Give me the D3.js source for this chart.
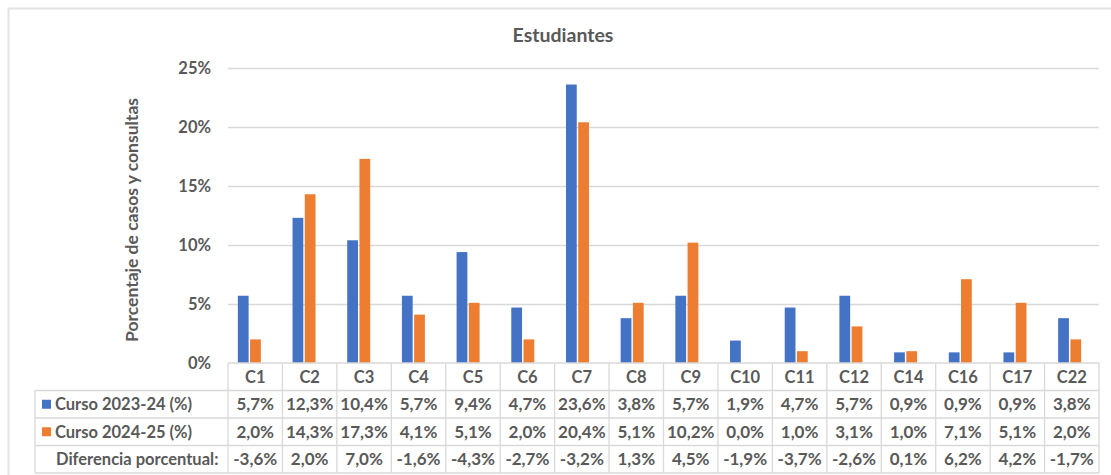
<!DOCTYPE html>
<html>
<head>
<meta charset="utf-8">
<script src="https://cdn.jsdelivr.net/npm/d3@7"></script>
<style>
  html, body { margin: 0; padding: 0; background: #fff; }
  svg { display: block; }
  text { font-family: Lato, "Open Sans", sans-serif; font-weight: bold; fill: #595959; }
</style>
</head>
<body>
<svg id="chart" width="1111" height="475"></svg>
<script>
// Categories and series (percentages)
const categories = ["C1","C2","C3","C4","C5","C6","C7","C8","C9","C10","C11","C12","C14","C16","C17","C22"];
const curso2324 = [5.7,12.3,10.4,5.7,9.4,4.7,23.6,3.8,5.7,1.9,4.7,5.7,0.9,0.9,0.9,3.8];
const curso2425 = [2.0,14.3,17.3,4.1,5.1,2.0,20.4,5.1,10.2,0.0,1.0,3.1,1.0,7.1,5.1,2.0];
const diferencia = [-3.6,2.0,7.0,-1.6,-4.3,-2.7,-3.2,1.3,4.5,-1.9,-3.7,-2.6,0.1,6.2,4.2,-1.7];
const seriesNames = ["Curso 2023-24 (%)", "Curso 2024-25 (%)"];
const diffLabel = "Diferencia porcentual:";
const yTicks = [0, 5, 10, 15, 20, 25];
const chartTitle = "Estudiantes";
const yTitle = "Porcentaje de casos y consultas";

const colors = ["#4472C4", "#ED7D31"];
const gridColor = "#d9d9d9";

const svg = d3.select("#chart");
// percent with comma decimal and plain hyphen for negatives
const fmt = v => d3.format(".1f")(v).replace("\u2212", "-").replace(".", ",") + "%";

// outer frame
svg.append("path")
  .attr("d", "M8.5,475 V8.5 H1111")
  .attr("fill", "none").attr("stroke", "#e3e3e3").attr("stroke-width", 2);

// layout
const plotTop = 68, plotBottom = 363;
const tableLeft = 228, tableRight = 1099;
const legendLeft = 35;
const rowH = 27.5;

const y = d3.scaleLinear().domain([0, 25]).range([plotBottom, plotTop]);
const xTable = d3.scaleBand().domain(categories).range([tableLeft, tableRight]);
const xBars = d3.scaleBand().domain(categories).range([222, 1097]);
const xSub = d3.scaleBand().domain([0, 1]).range([0, 23]).paddingInner(0.12);

// title
svg.append("text").attr("x", 563).attr("y", 42)
  .attr("text-anchor", "middle").attr("font-size", 19.5).text(chartTitle);

// y axis title
svg.append("text")
  .attr("transform", "translate(138,220) rotate(-90)")
  .attr("text-anchor", "middle").attr("font-size", 17.5).text(yTitle);

// gridlines
svg.append("g").selectAll("line").data(yTicks.filter(d => d > 0)).join("line")
  .attr("x1", tableLeft).attr("x2", tableRight)
  .attr("y1", d => Math.round(y(d)) + 0.5).attr("y2", d => Math.round(y(d)) + 0.5)
  .attr("stroke", gridColor).attr("stroke-width", 1.3);

// y tick labels
const yAxis = d3.axisLeft(y).tickValues(yTicks).tickFormat(d => d + "%").tickSize(0).tickPadding(0);
const gy = svg.append("g").attr("transform", "translate(211,0)").call(yAxis);
gy.select(".domain").remove();
gy.selectAll("text").attr("font-size", 16.5).attr("font-family", "Lato, sans-serif")
  .attr("font-weight", "bold").attr("fill", "#595959").attr("dy", "0.35em");

// bars
const seriesData = [curso2324, curso2425];
seriesData.forEach((vals, si) => {
  svg.append("g").selectAll("rect").data(categories).join("rect")
    .attr("x", (c) => xBars(c) + (xBars.bandwidth() - 23) / 2 + xSub(si))
    .attr("width", xSub.bandwidth())
    .attr("y", (c, i) => y(vals[i]))
    .attr("height", (c, i) => plotBottom - y(vals[i]))
    .attr("fill", colors[si]);
});

// data table
const tbl = svg.append("g").attr("stroke", gridColor).attr("stroke-width", 1.3).attr("fill", "none");
// axis/baseline
tbl.append("line").attr("x1", tableLeft).attr("x2", tableRight).attr("y1", plotBottom).attr("y2", plotBottom);
// horizontal row lines
[1, 2, 3, 4].forEach(r => {
  tbl.append("line").attr("x1", legendLeft).attr("x2", tableRight)
    .attr("y1", plotBottom + r * rowH).attr("y2", plotBottom + r * rowH);
});
// vertical lines
categories.forEach(c => {
  tbl.append("line").attr("x1", xTable(c)).attr("x2", xTable(c))
    .attr("y1", plotBottom).attr("y2", plotBottom + 4 * rowH);
});
tbl.append("line").attr("x1", tableRight).attr("x2", tableRight)
  .attr("y1", plotBottom).attr("y2", plotBottom + 4 * rowH);
tbl.append("line").attr("x1", legendLeft).attr("x2", legendLeft)
  .attr("y1", plotBottom + rowH).attr("y2", plotBottom + 4 * rowH);

// header labels
svg.append("g").selectAll("text").data(categories).join("text")
  .attr("x", c => xTable(c) + xTable.bandwidth() / 2)
  .attr("y", plotBottom + rowH / 2).attr("dy", "0.36em")
  .attr("text-anchor", "middle").attr("font-size", 16.5).text(c => c);

// value rows
const rows = [curso2324, curso2425, diferencia];
rows.forEach((vals, ri) => {
  const cy = plotBottom + (ri + 1) * rowH + rowH / 2;
  svg.append("g").selectAll("text").data(categories).join("text")
    .attr("x", c => xTable(c) + xTable.bandwidth() / 2)
    .attr("y", cy).attr("dy", "0.36em")
    .attr("text-anchor", "middle").attr("font-size", 17)
    .text((c, i) => fmt(vals[i]));
});

// row labels with legend keys
seriesNames.forEach((name, si) => {
  const cy = plotBottom + (si + 1) * rowH + rowH / 2;
  svg.append("rect").attr("x", 42).attr("y", cy - 4.5).attr("width", 9).attr("height", 9).attr("fill", colors[si]);
  svg.append("text").attr("x", 55).attr("y", cy).attr("dy", "0.36em")
    .attr("font-size", 16.5).text(name);
});
svg.append("text").attr("x", 56).attr("y", plotBottom + 3 * rowH + rowH / 2).attr("dy", "0.36em")
  .attr("font-size", 16.5).text(diffLabel);
</script>
</body>
</html>
